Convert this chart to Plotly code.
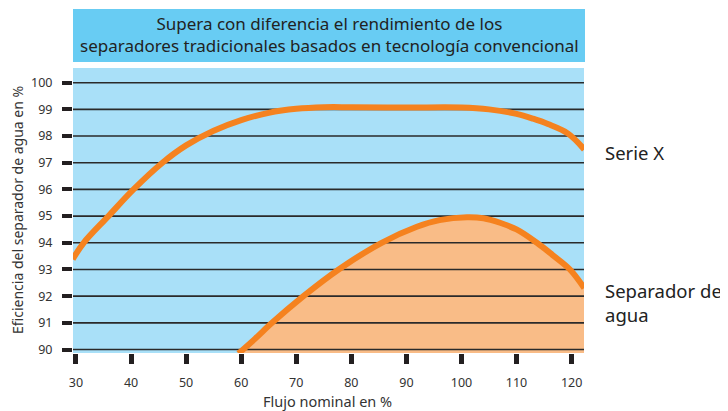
import plotly.graph_objects as go

# ---- data ----
X_TICKS = [30, 40, 50, 60, 70, 80, 90, 100, 110, 120]
Y_TICKS = [90, 91, 92, 93, 94, 95, 96, 97, 98, 99, 100]
X_RANGE = [29.46, 122.25]
Y_RANGE = [89.87, 100.55]

serie_x_flow = [29.4, 31.4, 35.9, 40.45, 45.7, 50, 55, 60, 65, 70, 75, 80, 90, 100, 105, 110, 113, 115.7, 119.3, 122.3]
serie_x_eff = [93.38, 94.0, 95.0, 96.0, 97.0, 97.65, 98.2, 98.6, 98.87, 99.02, 99.08, 99.08, 99.07, 99.07, 99.0, 98.83, 98.65, 98.45, 98.1, 97.5]

sep_flow = [59.5, 62.5, 65.6, 71.3, 77.7, 85.5, 91.9, 96, 101, 104, 107, 110, 113.7, 116.5, 119.7, 122.3]
sep_eff = [89.85, 90.4, 91.0, 92.0, 93.0, 94.0, 94.6, 94.85, 94.96, 94.92, 94.75, 94.5, 94.0, 93.55, 93.0, 92.3]

TITLE = "Supera con diferencia el rendimiento de los<br>separadores tradicionales basados en tecnología convencional"
X_TITLE = "Flujo nominal en %"
Y_TITLE = "Eficiencia del separador de agua en %"
LABEL_SERIE = "Serie X"
LABEL_SEP = "Separador de<br>agua"

ORANGE = "#F5821F"
FILL = "#F9BC87"
PLOT_BG = "#A9E0F8"
TITLE_BG = "#68CCF3"
FONT = "Noto Sans"

# page offset (body margin) compensation
OFF = 8
W, H = 728 - OFF, 411 - OFF
L, T = 73 - OFF, 68 - OFF
R_EDGE, B_EDGE = 584 - OFF, 353 - OFF

fig = go.Figure()

# filled area for separador
fig.add_trace(go.Scatter(x=sep_flow, y=sep_eff, mode="lines", line=dict(width=0, shape="spline", smoothing=1),
                         fill="tozeroy", fillcolor=FILL, hoverinfo="skip", showlegend=False))

# gridlines drawn as a trace (above the fill, below the curves)
gx, gy = [], []
for t in Y_TICKS:
    gx += [X_RANGE[0], X_RANGE[1], None]
    gy += [t, t, None]
fig.add_trace(go.Scatter(x=gx, y=gy, mode="lines", line=dict(color="#2a2a2a", width=1.6),
                         hoverinfo="skip", showlegend=False))

fig.add_trace(go.Scatter(x=sep_flow, y=sep_eff, mode="lines", line=dict(color=ORANGE, width=6, shape="spline", smoothing=1),
                         showlegend=False, name="Separador de agua"))
fig.add_trace(go.Scatter(x=serie_x_flow, y=serie_x_eff, mode="lines", line=dict(color=ORANGE, width=6, shape="spline", smoothing=1),
                         showlegend=False, name="Serie X"))

fig.update_layout(
    width=W, height=H,
    margin=dict(l=L, r=W - R_EDGE, t=T, b=H - B_EDGE, pad=0),
    paper_bgcolor="white",
    plot_bgcolor=PLOT_BG,
    font=dict(family=FONT, color="#333333"),
    showlegend=False,
)
fig.update_xaxes(range=X_RANGE, tickvals=X_TICKS, ticks="outside", ticklen=10, tickwidth=5, tickcolor="#231f20",
                 showgrid=False, zeroline=False, showline=False, tickfont=dict(size=12.5, color="#333333"),
                 ticklabelstandoff=8)
fig.update_yaxes(range=Y_RANGE, tickvals=Y_TICKS, ticks="outside", ticklen=10, tickwidth=4, tickcolor="#231f20",
                 showgrid=False, zeroline=False, showline=False, tickfont=dict(size=12.5, color="#333333"),
                 ticklabelstandoff=7)

ph = B_EDGE - T
pw = R_EDGE - L

def py(pix):
    # pix in screen coordinates
    return 1 + (T - (pix - OFF)) / ph

def px(pix):
    return ((pix - OFF) - L) / pw

fig.add_shape(type="rect", xref="paper", yref="paper", x0=px(73), x1=px(585), y0=py(62), y1=py(9),
              fillcolor=TITLE_BG, line=dict(width=0), layer="below")
fig.add_annotation(text=TITLE, xref="paper", yref="paper", x=px(329), y=py(34.5), showarrow=False,
                   font=dict(size=17, color="#222222", family=FONT), xanchor="center", yanchor="middle")
fig.add_annotation(text=X_TITLE, xref="paper", yref="paper", x=px(327), y=py(401), showarrow=False,
                   font=dict(size=14.5, color="#333333"), xanchor="center", yanchor="middle")
fig.add_annotation(text=Y_TITLE, xref="paper", yref="paper", x=px(17), y=py(210), showarrow=False, textangle=-90,
                   font=dict(size=14, color="#333333"), xanchor="center", yanchor="middle")
fig.add_annotation(text=LABEL_SERIE, xref="paper", yref="paper", x=px(603), y=py(152), showarrow=False,
                   font=dict(size=18.5, color="#222222"), xanchor="left", yanchor="middle", align="left")
fig.add_annotation(text=LABEL_SEP, xref="paper", yref="paper", x=px(603), y=py(302), showarrow=False,
                   font=dict(size=18.5, color="#222222"), xanchor="left", yanchor="middle", align="left")

fig.write_html("out.html")
